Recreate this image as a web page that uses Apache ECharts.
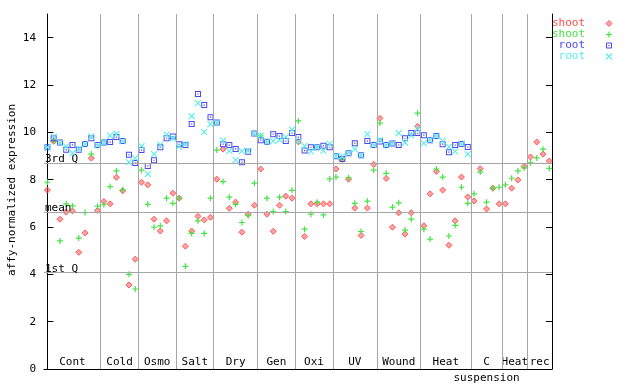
<!DOCTYPE html>
<html><head><meta charset="utf-8">
<script src="https://cdn.jsdelivr.net/npm/echarts@6/dist/echarts.min.js"></script>
<style>html,body{margin:0;padding:0;background:#fff}#c{width:640px;height:384px}</style>
</head><body><div id="c"></div>
<script>
// ---- data ----
const sectionNames = ['Cont','Cold','Osmo','Salt','Dry','Gen','Oxi','UV','Wound','Heat','C\nsuspension','Heat','rec'];
const sectionSizes = [9,6,6,6,7,6,6,7,7,8,5,4,4];

const shootRep1 = [7.56,9.62,6.33,6.63,6.68,4.93,5.75,8.91,6.70,
  7.08,6.98,8.10,7.53,3.55,4.64,
  7.89,7.78,6.33,5.83,6.26,7.43,
  7.22,5.19,5.83,6.45,6.30,6.41,
  8.02,9.29,6.79,7.05,5.78,6.54,6.92,
  8.45,6.54,5.82,6.92,7.30,7.22,
  9.60,5.60,6.98,6.98,6.98,6.98,
  8.45,8.85,8.02,6.80,5.64,6.80,8.65,
  10.59,8.05,5.99,6.60,5.70,6.60,10.25,
  6.05,7.40,8.35,7.56,5.23,6.26,8.11,7.27,
  7.10,8.46,6.76,7.64,6.98,
  6.98,7.64,7.99,8.56,
  8.96,9.59,9.08,8.79];
const shootRep2 = [7.89,9.64,5.41,6.98,6.89,5.53,6.61,9.08,6.88,
  6.94,7.71,8.37,7.57,4.00,3.38,
  8.40,6.96,5.99,6.05,7.22,7.00,
  7.22,4.34,5.73,6.26,5.73,7.22,
  9.25,7.92,7.26,6.96,6.19,6.48,7.85,
  9.85,7.22,6.65,7.26,6.65,7.55,
  10.48,5.91,6.54,7.05,6.51,8.03,
  8.11,8.87,8.08,7.00,5.81,7.09,8.40,
  10.39,8.27,6.84,7.02,5.87,6.33,10.81,
  5.91,5.49,8.45,8.11,5.62,6.07,7.68,7.00,
  7.40,8.32,7.05,7.64,7.68,
  7.78,8.06,8.37,8.50,
  8.71,8.92,9.29,8.48];
const rootRep1 = [9.37,9.75,9.57,9.26,9.47,9.26,9.51,9.75,9.46,
  9.57,9.59,9.80,9.63,9.05,8.70,
  9.25,8.58,8.82,9.37,9.75,9.82,
  9.50,9.47,10.35,11.62,11.15,10.64,
  10.42,9.50,9.46,9.30,8.74,9.18,9.95,
  9.67,9.60,9.92,9.84,9.63,9.97,
  9.80,9.23,9.37,9.37,9.43,9.37,
  8.99,8.87,9.12,9.54,9.03,9.63,9.46,
  9.61,9.46,9.53,9.46,9.75,9.97,9.97,
  9.88,9.67,9.84,9.50,9.16,9.46,9.51,9.38];
const rootRep2 = [9.37,9.82,9.55,9.40,9.12,9.30,9.50,9.83,9.45,
  9.57,9.86,9.93,9.63,8.74,8.91,
  9.42,8.23,9.08,9.47,9.90,9.75,
  9.40,9.50,10.68,11.23,10.02,10.35,
  10.40,9.65,9.22,8.83,9.21,9.23,9.95,
  9.86,9.60,9.63,9.68,9.80,10.11,
  9.62,9.43,9.20,9.37,9.23,9.51,
  9.00,8.98,9.12,9.29,9.03,9.92,9.46,
  9.68,9.46,9.53,9.97,9.57,9.87,10.15,
  9.54,9.67,9.84,9.64,9.39,9.20,9.51,9.08];

const quartileNames = ['3rd Q','mean','1st Q'];
const quartileValues = [8.70, 6.63, 4.09];
const yTicks = [0,2,4,6,8,10,12,14];
const legendNames = ['shoot','shoot','root','root'];

// ---- styles ----
const FONT = 'DejaVu Sans Mono';
const colors = ['#ff4c4c','#44e444','#4848f0','#55eeee'];
const diamondFill = 'rgba(255,90,90,0.55)';
const symDiamond = 'path://M3,0L6,3L3,6L0,3Z';
const symPlus = 'path://M0,3L6,3M3,0L3,6';
const symSquare = 'path://M0,0H6V6H0Z M1,1V5H5V1Z M2.4,2.4H3.6V3.6H2.4Z';
const symCross = 'path://M0,0L6,6M6,0L0,6';

const toXY = arr => arr.map((v, i) => [i, v]);

// section boundaries
const bounds = [];
let acc = 0;
sectionSizes.forEach(s => { bounds.push([acc - 0.5, acc + s - 0.5]); acc += s; });
const separators = bounds.slice(0, -1).map(b => b[1]);

const chart = echarts.init(document.getElementById('c'), null, {renderer: 'canvas'});

const axisLineStyle = {color: '#000', width: 1};
const yAxisCommon = {
  type: 'value', min: 0, max: 15,
  axisLine: {show: true, lineStyle: axisLineStyle},
  axisTick: {show: true, inside: true, length: 6, lineStyle: axisLineStyle, customValues: yTicks},
  splitLine: {show: false}
};

const option = {
  animation: false,
  backgroundColor: '#fff',
  grid: {left: 44, right: 88, top: 14, bottom: 15, containLabel: false},
  xAxis: {
    type: 'value', min: -0.54, max: 80.43,
    axisLine: {show: true, onZero: false, lineStyle: axisLineStyle},
    axisTick: {show: false}, axisLabel: {show: false}, splitLine: {show: false}
  },
  yAxis: [
    Object.assign({}, yAxisCommon, {
      position: 'left',
      axisLabel: {show: true, customValues: yTicks, margin: 8, color: '#000', fontFamily: FONT, fontSize: 11}
    }),
    Object.assign({}, yAxisCommon, {position: 'right', axisLabel: {show: false}})
  ],
  series: [
    {
      type: 'scatter', data: [], silent: true, z: 1,
      markLine: {
        silent: true, symbol: 'none', animation: false,
        lineStyle: {color: '#a6a6a6', type: 'solid', width: 1},
        data: separators.map(x => ({xAxis: x, label: {show: false}}))
          .concat(quartileValues.map((v, k) => ({
            yAxis: v,
            label: {show: true, formatter: quartileNames[k], position: 'insideStartTop',
              distance: [1, -2], color: '#000', fontFamily: FONT, fontSize: 11}
          })))
      },
      markArea: {
        silent: true,
        itemStyle: {color: 'rgba(0,0,0,0)'},
        label: {show: true, position: 'bottom', distance: 0, offset: [0, -15],
          color: '#000', fontFamily: FONT, fontSize: 11, lineHeight: 16, align: 'center'},
        data: bounds.map((b, k) => [
          {name: sectionNames[k], xAxis: b[0], yAxis: 0},
          {xAxis: b[1], yAxis: 15}
        ])
      }
    },
    {name: 'shoot', type: 'scatter', data: toXY(shootRep1), symbol: symDiamond, symbolSize: 6, z: 2,
      itemStyle: {color: diamondFill, borderColor: colors[0], borderWidth: 0.9, opacity: 1}},
    {name: 'shoot', type: 'scatter', data: toXY(shootRep2), symbol: symPlus, symbolSize: 6, z: 3,
      itemStyle: {color: 'none', borderColor: colors[1], borderWidth: 1.2, opacity: 1}},
    {name: 'root', type: 'scatter', data: toXY(rootRep1), symbol: symSquare, symbolSize: 6, z: 4,
      itemStyle: {color: colors[2], opacity: 1}},
    {name: 'root', type: 'scatter', data: toXY(rootRep2), symbol: symCross, symbolSize: 6, z: 5,
      itemStyle: {color: 'none', borderColor: colors[3], borderWidth: 1.1, opacity: 1}}
  ],
  graphic: []
};

// legend (text right-aligned, then marker)
function legendMarker(k, cx, cy) {
  const c = colors[k];
  if (k === 0) return [{type: 'polygon', shape: {points: [[cx, cy - 3], [cx + 3, cy], [cx, cy + 3], [cx - 3, cy]]},
    style: {fill: diamondFill, stroke: c, lineWidth: 0.9}}];
  if (k === 1) return [
    {type: 'line', shape: {x1: cx - 3, y1: cy, x2: cx + 3, y2: cy}, style: {stroke: c, lineWidth: 1.2}},
    {type: 'line', shape: {x1: cx, y1: cy - 3, x2: cx, y2: cy + 3}, style: {stroke: c, lineWidth: 1.2}}];
  if (k === 2) return [
    {type: 'rect', shape: {x: cx - 2.5, y: cy - 2.5, width: 5, height: 5}, style: {fill: 'none', stroke: c, lineWidth: 1}},
    {type: 'rect', shape: {x: cx - 0.6, y: cy - 0.6, width: 1.2, height: 1.2}, style: {fill: c}}];
  return [
    {type: 'line', shape: {x1: cx - 3, y1: cy - 3, x2: cx + 3, y2: cy + 3}, style: {stroke: c, lineWidth: 1.1}},
    {type: 'line', shape: {x1: cx + 3, y1: cy - 3, x2: cx - 3, y2: cy + 3}, style: {stroke: c, lineWidth: 1.1}}];
}
legendNames.forEach((nm, k) => {
  const y = 23.5 + k * 11;
  option.graphic.push({type: 'text', x: 585, y: y,
    style: {text: nm, fill: colors[k], font: '11px ' + FONT, textAlign: 'right', textVerticalAlign: 'middle'}});
  legendMarker(k, 609, y).forEach(el => option.graphic.push(el));
});
// y axis title
option.graphic.push({type: 'text', x: 12, y: 190, rotation: Math.PI / 2,
  style: {text: 'affy-normalized expression', fill: '#000', font: '11px ' + FONT,
    textAlign: 'center', textVerticalAlign: 'middle'}});

chart.setOption(option);
</script></body></html>
